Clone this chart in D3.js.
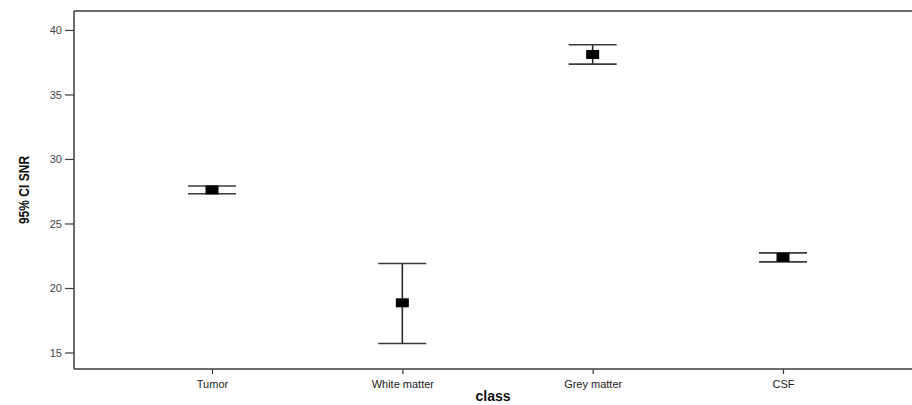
<!DOCTYPE html>
<html>
<head>
<meta charset="utf-8">
<script src="https://cdn.jsdelivr.net/npm/d3@7"></script>
<style>
  html, body { margin: 0; padding: 0; background: #fff; }
  svg { display: block; }
</style>
</head>
<body>
<svg id="chart" width="912" height="405"></svg>
<script>
// SNR per tissue class: mean with 95% confidence interval
const categories = ["Tumor", "White matter", "Grey matter", "CSF"];
const means      = [27.6, 18.85, 38.1, 22.38];
const ciLower    = [27.3, 15.7, 37.35, 22.02];
const ciUpper    = [27.9, 21.9, 38.85, 22.72];
const yTicks     = [15, 20, 25, 30, 35, 40];

const svg = d3.select("#chart");
const plot = { left: 74, top: 11, right: 912, bottom: 369 };

const y = d3.scaleLinear().domain([13.72, 41.47]).range([plot.bottom, plot.top]);
const x = d3.scalePoint().domain(categories).range([212, 783]);

const axisColor = "#3c3c3c";
const labelFont = "Liberation Sans, Arial, sans-serif";

// top border of the frame
svg.append("line")
  .attr("x1", plot.left).attr("x2", plot.right)
  .attr("y1", plot.top).attr("y2", plot.top)
  .attr("stroke", axisColor).attr("stroke-width", 1.5);

// y axis
const yAxis = svg.append("g")
  .attr("transform", `translate(${plot.left},0)`)
  .call(d3.axisLeft(y).tickValues(yTicks).tickSize(9).tickPadding(3).tickSizeOuter(0));
yAxis.select(".domain").attr("stroke", axisColor).attr("stroke-width", 1.5)
  .attr("d", `M0,${plot.top}V${plot.bottom}`);
yAxis.selectAll(".tick line").attr("stroke", axisColor).attr("stroke-width", 1.2);
yAxis.selectAll(".tick text")
  .attr("fill", "#444").style("font-family", labelFont).style("font-size", "11px");

// x axis
const xAxis = svg.append("g")
  .attr("transform", `translate(0,${plot.bottom})`)
  .call(d3.axisBottom(x).tickSize(5).tickPadding(6).tickSizeOuter(0));
xAxis.select(".domain").attr("stroke", axisColor).attr("stroke-width", 1.5)
  .attr("d", `M${plot.left},0H${plot.right}`);
xAxis.selectAll(".tick line").attr("stroke", axisColor).attr("stroke-width", 1.2);
xAxis.selectAll(".tick text")
  .attr("fill", "#222").style("font-family", labelFont).style("font-size", "11px");

// axis titles
svg.append("text")
  .attr("x", 493).attr("y", 401)
  .attr("text-anchor", "middle")
  .style("font-family", labelFont).style("font-weight", "bold").style("font-size", "14px")
  .attr("fill", "#111")
  .text("class");

svg.append("text")
  .attr("transform", `translate(29,${(plot.top + plot.bottom) / 2}) rotate(-90) scale(0.86,1)`)
  .attr("text-anchor", "middle")
  .style("font-family", "'Liberation Sans Narrow', 'Arial Narrow', " + labelFont)
  .style("font-weight", "bold").style("font-size", "14px")
  .attr("fill", "#111")
  .text("95% CI SNR");

// error bars
const capHalf = 24;
const data = categories.map((c, i) => ({ c, m: means[i], lo: ciLower[i], hi: ciUpper[i] }));
const g = svg.append("g");

g.selectAll("line.whisker").data(data).join("line")
  .attr("class", "whisker")
  .attr("x1", d => x(d.c)).attr("x2", d => x(d.c))
  .attr("y1", d => y(d.hi)).attr("y2", d => y(d.lo))
  .attr("stroke", "#2a2a2a").attr("stroke-width", 1.6);

["hi", "lo"].forEach(k => {
  g.selectAll(`line.cap-${k}`).data(data).join("line")
    .attr("class", `cap-${k}`)
    .attr("x1", d => x(d.c) - capHalf).attr("x2", d => x(d.c) + capHalf)
    .attr("y1", d => y(d[k])).attr("y2", d => y(d[k]))
    .attr("stroke", "#3a3a3a").attr("stroke-width", 1.6);
});

// mean markers
const mw = 13, mh = 9;
g.selectAll("rect.mean").data(data).join("rect")
  .attr("class", "mean")
  .attr("x", d => x(d.c) - mw / 2).attr("y", d => y(d.m) - mh / 2)
  .attr("width", mw).attr("height", mh)
  .attr("fill", "#000");
</script>
</body>
</html>
